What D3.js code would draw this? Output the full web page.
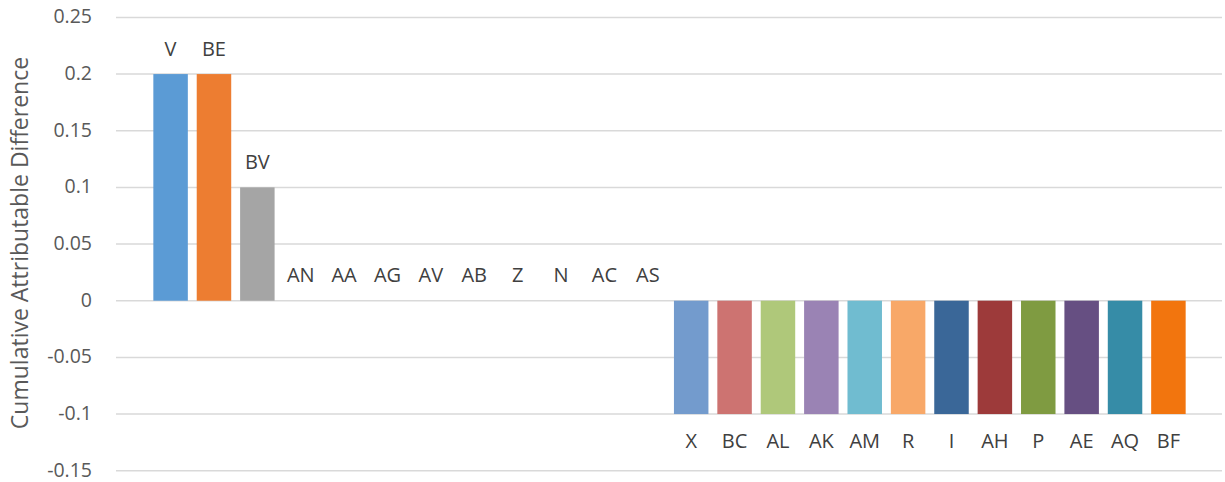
<!DOCTYPE html>
<html><head><meta charset="utf-8">
<script src="https://cdn.jsdelivr.net/npm/d3@7"></script>
<style>body{margin:0;background:#fff;} svg{display:block;}</style>
</head><body>
<script>
const categories = ["V","BE","BV","AN","AA","AG","AV","AB","Z","N","AC","AS","X","BC","AL","AK","AM","R","I","AH","P","AE","AQ","BF"];
const values = [0.2,0.2,0.1,0,0,0,0,0,0,0,0,0,-0.1,-0.1,-0.1,-0.1,-0.1,-0.1,-0.1,-0.1,-0.1,-0.1,-0.1,-0.1];
const colors = ["#5B9BD5","#ED7D31","#A5A5A5","#FFC000","#4472C4","#70AD47","#255E91","#9E480E","#636363","#997300","#264478","#43682B","#739BCD","#CD7371","#AFC87A","#9A83B4","#70BCD0","#F8A868","#3A6798","#9D3A3A","#7F9B41","#664F82","#368CA7","#F2750E"];
const yTicks = [-0.15,-0.1,-0.05,0,0.05,0.1,0.15,0.2,0.25];
const yTickLabels = ["-0.15","-0.1","-0.05","0","0.05","0.1","0.15","0.2","0.25"];
const yTitle = "Cumulative Attributable Difference";

const W=1225,H=482;
const svg=d3.select("body").append("svg").attr("width",W).attr("height",H);
const font="Open Sans, Liberation Sans, sans-serif";
const y=d3.scaleLinear().domain([-0.15,0.25]).range([470.7,17.4]);
const x=d3.scaleBand().domain(categories).range([149,1190]).paddingInner(0.205).paddingOuter(0.1);
const gL=116,gR=1222;

svg.append("g").selectAll("line").data(yTicks).join("line")
  .attr("x1",gL).attr("x2",gR).attr("y1",d=>y(d)).attr("y2",d=>y(d))
  .attr("stroke","#D9D9D9").attr("stroke-width",1.5);

svg.append("g").selectAll("text").data(yTicks).join("text")
  .attr("x",92).attr("y",d=>y(d)).attr("dy","0.3em").attr("text-anchor","end")
  .attr("font-family",font).attr("font-size",19.5).attr("fill","#595959")
  .text((d,i)=>yTickLabels[i]);

svg.append("text").attr("transform","translate(20,243) rotate(-90)")
  .attr("text-anchor","middle").attr("dy","0.35em")
  .attr("font-family",font).attr("font-size",23).attr("fill","#595959").text(yTitle);

svg.append("g").selectAll("rect").data(categories).join("rect")
  .attr("x",d=>x(d)).attr("width",x.bandwidth())
  .attr("y",(d,i)=>y(Math.max(0,values[i])))
  .attr("height",(d,i)=>Math.abs(y(values[i])-y(0)))
  .attr("fill",(d,i)=>colors[i]);

svg.append("g").selectAll("text").data(categories).join("text")
  .attr("x",d=>x(d)+x.bandwidth()/2)
  .attr("y",(d,i)=>values[i]>0? y(values[i])-18 : values[i]<0? y(values[i])+34 : y(0)-19)
  .attr("text-anchor","middle")
  .attr("font-family",font).attr("font-size",20).attr("fill","#404040")
  .text(d=>d);
</script>
</body></html>
